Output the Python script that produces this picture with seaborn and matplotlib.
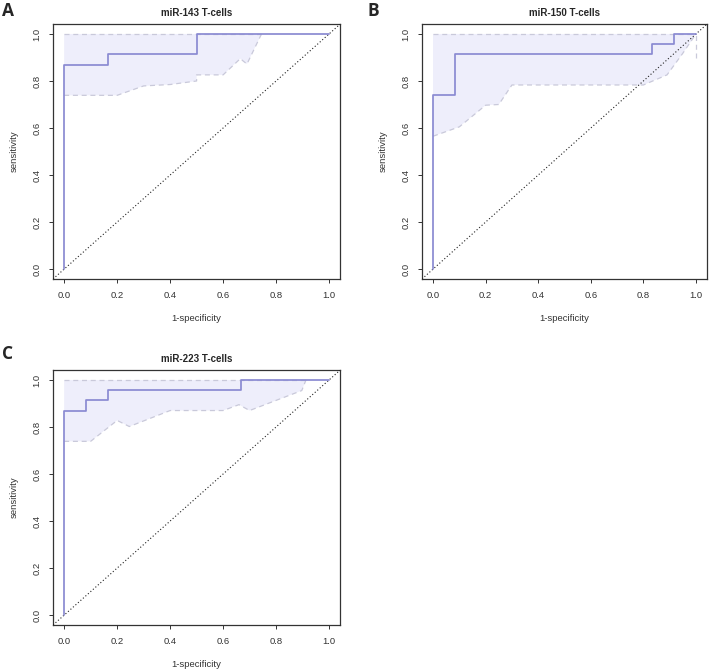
import matplotlib
matplotlib.use("Agg")
import numpy as np
import matplotlib.pyplot as plt
import pandas as pd
import seaborn as sns

# ROC step curves (x = 1-specificity, y = sensitivity)
a_roc_x = [0, 0, 0.167, 0.167, 0.5, 0.5, 1.0]
a_roc_y = [0, 0.870, 0.870, 0.913, 0.913, 1.0, 1.0]
b_roc_x = [0, 0, 0.083, 0.083, 0.833, 0.833, 0.917, 0.917, 1.0]
b_roc_y = [0, 0.739, 0.739, 0.913, 0.913, 0.957, 0.957, 1.0, 1.0]
c_roc_x = [0, 0, 0.083, 0.083, 0.167, 0.167, 0.667, 0.667, 1.0]
c_roc_y = [0, 0.870, 0.870, 0.913, 0.913, 0.957, 0.957, 1.0, 1.0]

# lower edge of the confidence band (upper edge sits at 1.0)
a_ci_x = [0, 0.2, 0.3, 0.4, 0.5, 0.5, 0.6, 0.665, 0.69, 0.745]
a_ci_lo = [0.739, 0.739, 0.779, 0.785, 0.800, 0.826, 0.826, 0.895, 0.872, 1.0]
b_ci_x = [0, 0.1, 0.2, 0.25, 0.3, 0.8, 0.89, 0.95, 1.0]
b_ci_lo = [0.565, 0.605, 0.697, 0.700, 0.783, 0.783, 0.826, 0.918, 1.0]
c_ci_x = [0, 0.1, 0.2, 0.246, 0.4, 0.6, 0.66, 0.70, 0.897, 0.913]
c_ci_lo = [0.739, 0.739, 0.828, 0.802, 0.870, 0.870, 0.895, 0.870, 0.955, 1.0]
b_tail_y = [0.897, 1.0]  # short dashed segment at x = 1

titles = ["miR-143 T-cells", "miR-150 T-cells", "miR-223 T-cells"]
letters = ["A", "B", "C"]
ticks = [0.0, 0.2, 0.4, 0.6, 0.8, 1.0]

ROC_COL = "#8a8ad2"
FILL_COL = "#eeeefb"
CI_COL = "#c9c9da"

sns.set_style("ticks")
plt.rcParams["font.family"] = ["Liberation Sans", "DejaVu Sans"]

fig = plt.figure(figsize=(7.09, 6.69), dpi=100)
positions = [
    [0.0748, 0.583, 0.405, 0.381],
    [0.5952, 0.583, 0.402, 0.381],
    [0.0748, 0.0658, 0.405, 0.381],
]
panels = [
    (a_roc_x, a_roc_y, a_ci_x, a_ci_lo),
    (b_roc_x, b_roc_y, b_ci_x, b_ci_lo),
    (c_roc_x, c_roc_y, c_ci_x, c_ci_lo),
]

for i, (pos, (rx, ry, cx, clo)) in enumerate(zip(positions, panels)):
    ax = fig.add_axes(pos)
    # confidence band polygon: lower edge forward, upper edge (1.0) back
    px = list(cx) + [cx[-1], 0]
    py = list(clo) + [1.0, 1.0]
    ax.fill(px, py, color=FILL_COL, lw=0, zorder=1)
    ax.plot([0, cx[-1]], [1.0, 1.0], ls=(0, (4, 3)), color=CI_COL, lw=0.9, zorder=2)
    ax.plot(cx, clo, ls=(0, (4, 3)), color=CI_COL, lw=0.9, zorder=2)
    if i == 1:
        ax.plot([1.0, 1.0], b_tail_y, ls=(0, (4, 3)), color=CI_COL, lw=0.9, zorder=2)

    ax.axline((0, 0), (1, 1), ls=(0, (1, 2)), color="#222222", lw=0.8, zorder=3)

    df = pd.DataFrame({"fpr": rx, "tpr": ry})
    sns.lineplot(data=df, x="fpr", y="tpr", sort=False, estimator=None,
                 color=ROC_COL, lw=1.25, ax=ax, zorder=4)

    ax.set_xlim(-0.042, 1.042)
    ax.set_ylim(-0.042, 1.042)
    ax.set_xticks(ticks)
    ax.set_yticks(ticks)
    ax.set_xticklabels([f"{t:.1f}" for t in ticks])
    ax.set_yticklabels([f"{t:.1f}" for t in ticks], rotation=90, va="center")
    ax.tick_params(labelsize=6.8, length=3, width=0.7, pad=5.5, colors="#333333")
    for s in ax.spines.values():
        s.set_visible(True)
        s.set_linewidth(0.9)
        s.set_color("#333333")
    ax.set_xlabel("1-specificity", fontsize=6.8, labelpad=10, color="#333333")
    ax.set_ylabel("sensitivity", fontsize=6.8, labelpad=10, color="#333333")
    ax.set_title(titles[i], fontsize=7, fontweight="bold", pad=6)

letter_pos = [(0.003, 0.984), (0.519, 0.984), (0.003, 0.471)]
for (lx, ly), lt in zip(letter_pos, letters):
    fig.text(lx, ly, lt, fontsize=12.5, fontweight="bold",
             family=["Open Sans", "DejaVu Sans"], va="center", ha="left")

fig.savefig("out.png", dpi=100)
